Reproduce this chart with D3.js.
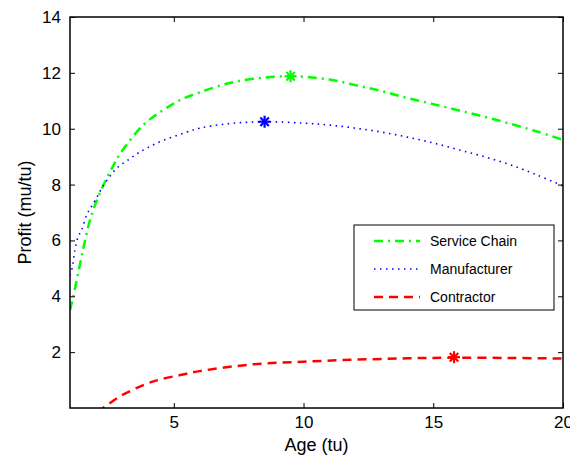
<!DOCTYPE html>
<html>
<head>
<meta charset="utf-8">
<script src="https://cdn.jsdelivr.net/npm/d3@7"></script>
<style>
  body { margin: 0; background: #fff; }
  svg { display: block; font-family: "Liberation Sans", Arial, sans-serif; }
</style>
</head>
<body>
<div id="chart"></div>
<script>
// values
var ageService = [1, 1.12, 1.42, 1.58, 1.77, 2.04, 2.35, 2.66, 2.9, 3.82, 4.6, 5.25, 6, 7, 8, 9.5, 11, 12, 13, 14, 15, 16, 17, 18, 19, 20];
var profitService = [3.5, 3.97, 5.3, 6.0, 6.73, 7.45, 8.1, 8.66, 9.06, 10.13, 10.67, 11.03, 11.3, 11.6, 11.78, 11.88, 11.76, 11.56, 11.35, 11.1, 10.88, 10.65, 10.42, 10.17, 9.9, 9.6];

var ageManu = [1, 1.08, 1.19, 1.31, 1.46, 1.66, 1.85, 2.04, 2.24, 2.54, 2.85, 3.24, 3.63, 4.36, 5.5, 6, 7, 8.5, 10, 11, 12, 13, 14, 15, 16, 17, 18, 19, 20];
var profitManu = [4.75, 5.0, 5.66, 6.12, 6.4, 6.95, 7.25, 7.55, 7.9, 8.3, 8.63, 8.88, 9.13, 9.49, 9.88, 10.02, 10.17, 10.25, 10.2, 10.13, 10.02, 9.88, 9.7, 9.49, 9.24, 8.99, 8.7, 8.34, 7.95];

var ageContr = [1, 1.5, 2, 2.27, 2.93, 3.9, 4.47, 5.25, 6, 8, 10, 12, 14, 15.8, 18, 20];
var profitContr = [-1.4, -0.65, -0.15, 0, 0.42, 0.85, 1.02, 1.18, 1.32, 1.56, 1.66, 1.73, 1.78, 1.8, 1.79, 1.77];

var seriesNames = ["Service Chain", "Manufacturer", "Contractor"];
var seriesColors = ["#00ff00", "#0000ff", "#ff0000"];
var peakAge = [9.5, 8.5, 15.8];
var peakProfit = [11.88, 10.25, 1.82];

var xTicks = [5, 10, 15, 20];
var yTicks = [2, 4, 6, 8, 10, 12, 14];

var W = 570, H = 459;
var margin = {left: 70, right: 7, top: 17, bottom: 51};
var pw = W - margin.left - margin.right;
var ph = H - margin.top - margin.bottom;

var svg = d3.select("#chart").append("svg").attr("width", W).attr("height", H);

var x = d3.scaleLinear().domain([1, 20]).range([0, pw]);
var y = d3.scaleLinear().domain([0, 14]).range([ph, 0]);

var g = svg.append("g").attr("transform", "translate(" + margin.left + "," + margin.top + ")");

svg.append("defs").append("clipPath").attr("id", "clip")
   .append("rect").attr("width", pw).attr("height", ph);

var styles = [
  {width: 2.5, dash: "9,5,2,5"},
  {width: 1.6, dash: "1.5,4.5"},
  {width: 2.5, dash: "9,6"}
];

var data = [
  d3.zip(ageService, profitService),
  d3.zip(ageManu, profitManu),
  d3.zip(ageContr, profitContr)
];

var line = d3.line()
  .x(function(d){ return x(d[0]); })
  .y(function(d){ return y(d[1]); })
  .curve(d3.curveCatmullRom.alpha(0.5));

var plot = g.append("g").attr("clip-path", "url(#clip)");
data.forEach(function(d, i){
  plot.append("path")
    .attr("d", line(d))
    .attr("fill", "none")
    .attr("stroke", seriesColors[i])
    .attr("stroke-width", styles[i].width)
    .attr("stroke-dasharray", styles[i].dash);
});

// asterisk markers at the peaks
function star(sel, cx, cy, r, col){
  var s = sel.append("g").attr("transform", "translate(" + cx + "," + cy + ")");
  [0, 45, 90, 135].forEach(function(a){
    var rad = a * Math.PI / 180;
    s.append("line")
      .attr("x1", -r * Math.cos(rad)).attr("y1", -r * Math.sin(rad))
      .attr("x2", r * Math.cos(rad)).attr("y2", r * Math.sin(rad))
      .attr("stroke", col).attr("stroke-width", 2.2);
  });
}
peakAge.forEach(function(a, i){
  star(g, x(a), y(peakProfit[i]), 6, seriesColors[i]);
});

// axes: ticks inward, mirrored on top and right
function styleAxis(ax){
  ax.select(".domain").remove();
  ax.selectAll("line").attr("stroke", "#000").attr("stroke-width", 1);
  ax.selectAll("text").attr("font-size", 17).attr("fill", "#000")
    .attr("font-family", "Liberation Sans, Arial, sans-serif");
}
var xa = g.append("g").attr("transform", "translate(0," + ph + ")")
  .call(d3.axisBottom(x).tickValues(xTicks).tickSizeInner(-5).tickSizeOuter(0).tickPadding(8));
styleAxis(xa);
var xt = g.append("g")
  .call(d3.axisTop(x).tickValues(xTicks).tickSizeInner(-5).tickSizeOuter(0).tickFormat(""));
styleAxis(xt);
var ya = g.append("g")
  .call(d3.axisLeft(y).tickValues(yTicks).tickSizeInner(-5).tickSizeOuter(0).tickPadding(9));
styleAxis(ya);
var yr = g.append("g").attr("transform", "translate(" + pw + ",0)")
  .call(d3.axisRight(y).tickValues(yTicks).tickSizeInner(-5).tickSizeOuter(0).tickFormat(""));
styleAxis(yr);

g.append("rect").attr("width", pw).attr("height", ph)
  .attr("fill", "none").attr("stroke", "#000").attr("stroke-width", 1.5);

// axis titles
svg.append("text")
  .attr("x", margin.left + pw / 2).attr("y", 451)
  .attr("text-anchor", "middle").attr("font-size", 18)
  .text("Age (tu)");
svg.append("text")
  .attr("transform", "translate(31," + (margin.top + ph / 2) + ") rotate(-90)")
  .attr("text-anchor", "middle").attr("font-size", 18)
  .text("Profit (mu/tu)");

// legend
var lg = svg.append("g").attr("transform", "translate(354,225)");
lg.append("rect").attr("width", 200).attr("height", 85)
  .attr("fill", "#fff").attr("stroke", "#000").attr("stroke-width", 1);
seriesNames.forEach(function(n, i){
  var yy = 16 + i * 28;
  lg.append("line")
    .attr("x1", 20).attr("x2", 66).attr("y1", yy).attr("y2", yy)
    .attr("stroke", seriesColors[i])
    .attr("stroke-width", styles[i].width)
    .attr("stroke-dasharray", styles[i].dash);
  lg.append("text")
    .attr("x", 76).attr("y", yy + 5)
    .attr("font-size", 14)
    .text(n);
});
</script>
</body>
</html>
